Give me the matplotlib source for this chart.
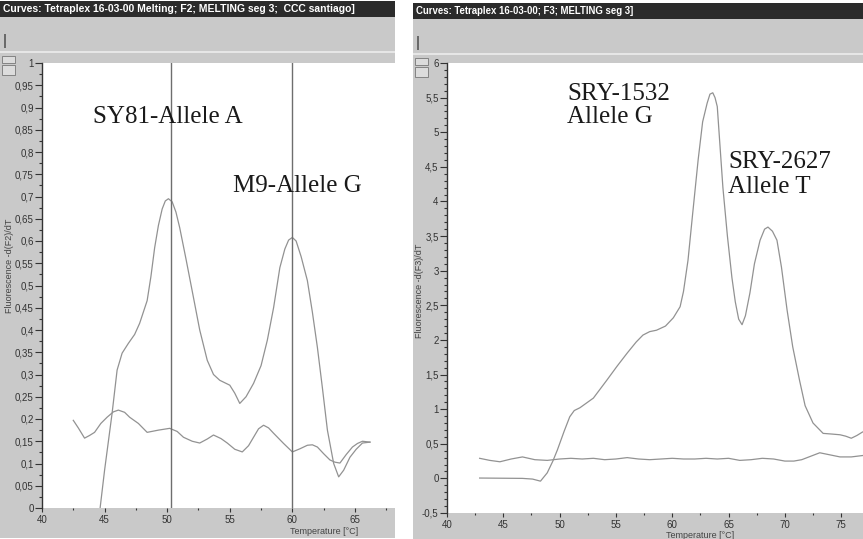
import matplotlib
matplotlib.use("Agg")
import matplotlib.pyplot as plt
from matplotlib.patches import Rectangle
from matplotlib.ticker import MultipleLocator, FuncFormatter

# F2 channel (left window)
f2_temp_a = [44.6, 45.0, 45.6, 46.0, 46.4, 46.9, 47.4, 47.8, 48.4, 48.7, 49.0, 49.3, 49.6, 49.85, 50.1,
             50.4, 50.7, 51.0, 51.5, 52.1, 52.6, 53.2, 53.7, 54.2, 55.0, 55.4, 55.8, 56.3, 56.9, 57.5,
             58.0, 58.5, 59.0, 59.4, 59.7, 60.0, 60.3, 60.7, 61.2, 61.6, 62.0, 62.4, 62.8, 63.3, 63.7,
             64.1, 64.6, 65.1, 65.6, 66.2]
f2_curve_a = [-0.01, 0.085, 0.213, 0.31, 0.348, 0.37, 0.39, 0.415, 0.466, 0.52, 0.585, 0.635, 0.672, 0.69, 0.695,
              0.688, 0.665, 0.63, 0.56, 0.473, 0.40, 0.332, 0.30, 0.287, 0.276, 0.258, 0.235, 0.25, 0.28, 0.32,
              0.377, 0.45, 0.54, 0.582, 0.602, 0.608, 0.600, 0.565, 0.511, 0.44, 0.361, 0.27, 0.175, 0.10, 0.07,
              0.085, 0.114, 0.132, 0.146, 0.148]
f2_temp_b = [42.5, 42.9, 43.4, 43.8, 44.2, 44.7, 45.2, 45.7, 46.1, 46.6, 47.0, 47.7, 48.4, 49.3, 50.2, 50.8,
             51.3, 52.0, 52.6, 53.2, 53.7, 54.3, 54.8, 55.4, 56.0, 56.5, 56.9, 57.3, 57.7, 58.1, 58.5, 59.3,
             60.0, 60.6, 61.2, 61.6, 62.0, 62.5, 63.0, 63.4, 63.8, 64.3, 64.8, 65.2, 65.6, 66.2]
f2_curve_b = [0.197, 0.18, 0.157, 0.163, 0.17, 0.19, 0.204, 0.216, 0.22, 0.215, 0.204, 0.19, 0.17, 0.175, 0.179,
              0.172, 0.159, 0.15, 0.146, 0.155, 0.164, 0.156, 0.146, 0.132, 0.126, 0.14, 0.159, 0.178, 0.186,
              0.180, 0.168, 0.145, 0.126, 0.133, 0.141, 0.142, 0.137, 0.122, 0.108, 0.103, 0.101, 0.12, 0.137,
              0.145, 0.150, 0.148]
f2_markers = [50.3, 60.0]

# F3 channel (right window)
f3_temp_a = [42.9, 46.7, 47.6, 48.3, 48.9, 49.4, 49.8, 50.4, 50.9, 51.3, 51.8, 53.0, 54.2, 55.1, 56.0, 56.8,
             57.4, 58.0, 58.6, 59.4, 60.1, 60.7, 61.0, 61.4, 61.8, 62.3, 62.7, 63.1, 63.35, 63.6, 63.8, 64.0,
             64.2, 64.5, 64.9, 65.3, 65.6, 65.9, 66.2, 66.5, 66.9, 67.3, 67.8, 68.2, 68.5, 68.9, 69.3, 69.7,
             70.2, 70.7, 71.3, 71.8, 72.5, 73.4, 74.2, 74.9, 75.4, 75.9, 76.4, 76.9]
f3_curve_a = [0.005, 0.0, -0.01, -0.04, 0.08, 0.25, 0.41, 0.68, 0.89, 0.98, 1.02, 1.16, 1.42, 1.62, 1.81, 1.97,
              2.07, 2.12, 2.14, 2.2, 2.32, 2.48, 2.7, 3.15, 3.8, 4.6, 5.15, 5.42, 5.55, 5.57, 5.5, 5.37,
              4.9, 4.2, 3.5, 2.9, 2.55, 2.3, 2.22, 2.35, 2.68, 3.1, 3.44, 3.6, 3.63, 3.57, 3.44, 3.05,
              2.43, 1.9, 1.42, 1.05, 0.80, 0.65, 0.64, 0.63, 0.61, 0.58, 0.62, 0.67]
f3_temp_b = [42.9, 43.8, 44.7, 45.7, 46.7, 47.8, 48.9, 50.0, 51.0, 52.0, 53.0, 54.0, 55.0, 56.0, 57.0, 58.0,
             59.0, 60.0, 61.0, 62.0, 63.0, 64.0, 65.0, 66.0, 67.0, 68.0, 69.0, 70.0, 70.8, 71.5, 72.3, 73.1,
             74.0, 74.9, 75.9, 76.9]
f3_curve_b = [0.29, 0.26, 0.24, 0.28, 0.31, 0.27, 0.26, 0.28, 0.29, 0.28, 0.29, 0.27, 0.28, 0.30, 0.28, 0.27,
              0.28, 0.29, 0.28, 0.28, 0.29, 0.28, 0.29, 0.26, 0.27, 0.29, 0.28, 0.25, 0.25, 0.27, 0.32, 0.37,
              0.34, 0.31, 0.31, 0.33]

title_left = "Curves: Tetraplex 16-03-00 Melting; F2; MELTING seg 3;  CCC santiago]"
title_right = "Curves: Tetraplex 16-03-00; F3; MELTING seg 3]"

W, H = 863, 539
GRAY = "#c9c9c9"
DARK = "#2b2b2b"
CURVE = "#929292"
TXT = "#333333"


def fx(x):
    return x / W


def fy(y):
    return 1 - y / H


def rect(x0, y0, x1, y1, color, edge="none"):
    fig.patches.append(Rectangle((fx(x0), fy(y1)), fx(x1 - x0), (y1 - y0) / H,
                                 transform=fig.transFigure, facecolor=color,
                                 edgecolor=edge, lw=0.6, zorder=-1))


def comma(v, pos):
    s = ("%.2f" % v).rstrip("0").rstrip(".")
    if s == "-0":
        s = "0"
    return s.replace(".", ",")


fig = plt.figure(figsize=(8.63, 5.39), dpi=100)
fig.patch.set_facecolor("white")

# window frames
for (x0, x1, top) in [(0, 395, 1), (413, 863, 3)]:
    rect(x0, top + 15, x1, H - 1 if x0 == 0 else H, GRAY)
    rect(x0, top, x1, top + 16, DARK)
    rect(x0, top + 50, x1, top + 52, "#e6e6e6")
    rect(x0 + 4, top + 33, x0 + 5.5, top + 47, "#6a6a6a")
    rect(x0 + 2, top + 55, x0 + 15, top + 62, "#dcdcdc", "#777777")
    rect(x0 + 2, top + 64, x0 + 15, top + 74, "#dcdcdc", "#777777")

fig.text(fx(3), fy(9), title_left, color="white", fontsize=7.5, fontweight="bold",
         family="Liberation Sans", va="center", ha="left")
fig.text(fx(416), fy(11), title_right, color="white", fontsize=6.9, fontweight="bold",
         family="Liberation Sans", va="center", ha="left")


def style_axes(ax, ymajor, yminor):
    ax.set_facecolor("white")
    for s in ["top", "right", "bottom"]:
        ax.spines[s].set_visible(False)
    ax.spines["left"].set_color("#333333")
    ax.spines["left"].set_linewidth(1.0)
    ax.xaxis.set_major_locator(MultipleLocator(5))
    ax.xaxis.set_minor_locator(MultipleLocator(2.5))
    ax.yaxis.set_major_locator(MultipleLocator(ymajor))
    ax.yaxis.set_minor_locator(MultipleLocator(yminor))
    ax.yaxis.set_major_formatter(FuncFormatter(comma))
    ax.xaxis.set_major_formatter(FuncFormatter(comma))
    ax.tick_params(axis="y", which="major", length=5, width=0.8, color="#333333",
                   labelsize=7, labelcolor=TXT, pad=1)
    ax.tick_params(axis="y", which="minor", length=2.5, width=0.8, color="#333333")
    ax.tick_params(axis="x", which="major", length=3, width=0.8, color="#333333",
                   labelsize=7, labelcolor=TXT, pad=2)
    ax.tick_params(axis="x", which="minor", length=1.2, width=0.8, color="#333333")
    for lab in ax.get_xticklabels() + ax.get_yticklabels():
        lab.set_family("Liberation Sans")


# left plot
axl = fig.add_axes([fx(42), fy(508), fx(395 - 42), (508 - 63) / H])
axl.plot(f2_temp_a, f2_curve_a, color=CURVE, lw=0.9)
axl.plot(f2_temp_b, f2_curve_b, color=CURVE, lw=0.9)
for m in f2_markers:
    axl.axvline(m, color="#6e6e6e", lw=1.0)
axl.set_xlim(40, 68.2)
axl.set_ylim(0, 1)
style_axes(axl, 0.05, 0.025)
axl.text(44.07, 0.865, "SY81-Allele A", family="Liberation Serif", fontsize=18,
         color="#1a1a1a", va="baseline")
axl.text(55.26, 0.71, "M9-Allele G", family="Liberation Serif", fontsize=18,
         color="#1a1a1a", va="baseline")

# right plot
axr = fig.add_axes([fx(447), fy(513), fx(863 - 447), (513 - 63) / H])
axr.plot(f3_temp_a, f3_curve_a, color=CURVE, lw=0.9)
axr.plot(f3_temp_b, f3_curve_b, color=CURVE, lw=0.9)
axr.set_xlim(40, 76.94)
axr.set_ylim(-0.5, 6)
style_axes(axr, 0.5, 0.1)
axr.text(50.66, 5.47, "SRY-1532", family="Liberation Serif", fontsize=18, color="#1a1a1a", va="baseline")
axr.text(50.66, 5.13, "Allele G", family="Liberation Serif", fontsize=18, color="#1a1a1a", va="baseline")
axr.text(64.95, 4.48, "SRY-2627", family="Liberation Serif", fontsize=18, color="#1a1a1a", va="baseline")
axr.text(64.95, 4.12, "Allele T", family="Liberation Serif", fontsize=18, color="#1a1a1a", va="baseline")

# axis titles
fig.text(fx(10), fy(266), "Fluorescence -d(F2)/dT", rotation=90, fontsize=6.5, color="#444444",
         family="Liberation Sans", ha="center", va="center")
fig.text(fx(419), fy(291), "Fluorescence -d(F3)/dT", rotation=90, fontsize=6.5, color="#444444",
         family="Liberation Sans", ha="center", va="center")
fig.text(fx(324), fy(531), "Temperature [°C]", fontsize=6.5, color="#444444",
         family="Liberation Sans", ha="center", va="center")
fig.text(fx(700), fy(535), "Temperature [°C]", fontsize=6.5, color="#444444",
         family="Liberation Sans", ha="center", va="center")

fig.savefig("out.png", dpi=100)
